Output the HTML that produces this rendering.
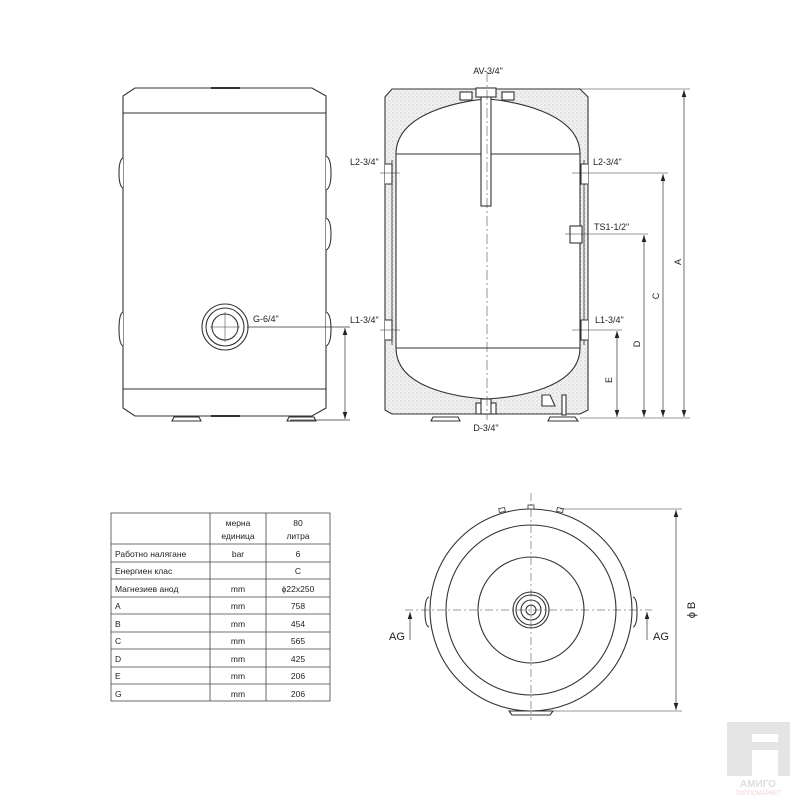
<!DOCTYPE html>
<html><head><meta charset="utf-8"><style>
html,body{margin:0;padding:0;background:#fff;}
svg{display:block}
text{font-family:"Liberation Sans","DejaVu Sans",sans-serif;fill:#222}
</style></head><body>
<svg width="800" height="800" viewBox="0 0 800 800" xmlns="http://www.w3.org/2000/svg">
<defs>
<pattern id="dots" width="4" height="4" patternUnits="userSpaceOnUse">
<rect width="4" height="4" fill="#f1f1f1"/><circle cx="1" cy="1" r="0.6" fill="#bbb"/><circle cx="3" cy="3" r="0.5" fill="#ccc"/>
</pattern>
<marker id="ar" markerWidth="9" markerHeight="8" refX="0" refY="0" orient="auto-start-reverse" markerUnits="userSpaceOnUse" viewBox="-8 -4 9 8">
<path d="M0,0 L-7,-2.3 L-7,2.3 Z" fill="#222"/></marker>
</defs>
<g stroke="#333" stroke-width="1.1" fill="none">
<!-- FRONT VIEW -->
<path d="M135,88 L312,88 L326,96 L326,408 L312,416 L135,416 L123,408 L123,96 Z" fill="#fff"/>
<line x1="123" y1="113" x2="326" y2="113"/>
<line x1="123" y1="389" x2="326" y2="389"/>
<path d="M211,88 L240,88" stroke-width="2"/>
<path d="M211,416 L240,416" stroke-width="2"/>
<path d="M123,158 Q119,160 119,173 Q119,186 123,188" fill="#fff"/>
<path d="M123,312 Q119,314 119,329 Q119,344 123,346" fill="#fff"/>
<path d="M326,156 Q331,158 331,173 Q331,188 326,190" fill="#fff"/>
<path d="M326,218 Q331,220 331,234 Q331,248 326,250" fill="#fff"/>
<path d="M326,312 Q331,314 331,329 Q331,344 326,346" fill="#fff"/>
<path d="M174,417 L199,417 L201,421 L172,421 Z" fill="#fff"/>
<path d="M289,417 L314,417 L316,421 L287,421 Z" fill="#fff"/>
<circle cx="225" cy="327" r="23"/><circle cx="225" cy="327" r="19"/><circle cx="225" cy="327" r="13"/>
<line x1="225" y1="312" x2="225" y2="342" stroke-width="0.5"/>
<line x1="210" y1="327" x2="240" y2="327" stroke-width="0.5"/>
<line x1="247" y1="327" x2="350" y2="327" stroke-width="0.7"/>
<line x1="290" y1="420" x2="350" y2="420" stroke-width="0.7"/>
<line x1="345" y1="419" x2="345" y2="328" stroke-width="0.7" marker-start="url(#ar)" marker-end="url(#ar)"/>

<!-- SECTION VIEW -->
<path d="M392,89 L580,89 L588,97 L588,410 L580,414 L392,414 L385,410 L385,97 Z" fill="url(#dots)"/>
<path d="M396,154 C396,110 470,100 487,99 C504,100 580,110 580,154 L580,348 C580,392 504,398 487,399 C470,398 396,392 396,348 Z" fill="#fff"/>
<line x1="396" y1="154" x2="580" y2="154"/>
<line x1="396" y1="348" x2="580" y2="348"/>
<line x1="392" y1="160" x2="392" y2="345" stroke-width="0.8"/>
<line x1="584" y1="160" x2="584" y2="345" stroke-width="0.8"/>
<rect x="481" y="92" width="10" height="114" fill="#fff"/>
<rect x="476" y="88" width="20" height="9" fill="#fff"/>
<rect x="460" y="92" width="12" height="8" fill="#fff"/>
<rect x="502" y="92" width="12" height="8" fill="#fff"/>
<rect x="476" y="403" width="20" height="11" fill="#fff"/>
<rect x="481" y="399" width="10" height="15" fill="#fff"/>
<line x1="487" y1="72" x2="487" y2="420" stroke-width="0.5" stroke-dasharray="10,3,2,3"/>
<path d="M385,164 L392,164 L392,184 L385,184" fill="#fff"/>
<path d="M588,164 L581,164 L581,184 L588,184" fill="#fff"/>
<path d="M385,320 L392,320 L392,340 L385,340" fill="#fff"/>
<path d="M588,320 L581,320 L581,340 L588,340" fill="#fff"/>
<rect x="570" y="226" width="12" height="17" fill="#fff"/>
<path d="M542,395 L550,395 L555,406 L542,406 Z" fill="#fff"/>
<path d="M433,417 L458,417 L460,421 L431,421 Z" fill="#fff"/>
<rect x="562" y="395" width="4" height="20" fill="#fff"/>
<path d="M550,417 L575,417 L578,421 L548,421 Z" fill="#fff"/>
<g stroke-width="0.6">
<line x1="380" y1="173" x2="400" y2="173"/>
<line x1="572" y1="173" x2="668" y2="173"/>
<line x1="380" y1="330" x2="400" y2="330"/>
<line x1="572" y1="330" x2="622" y2="330"/>
<line x1="565" y1="234" x2="648" y2="234"/>
<line x1="500" y1="89" x2="690" y2="89"/>
<line x1="580" y1="418" x2="690" y2="418"/>
</g>
<g stroke-width="0.7">
<line x1="684" y1="417" x2="684" y2="90" marker-start="url(#ar)" marker-end="url(#ar)"/>
<line x1="663" y1="417" x2="663" y2="174" marker-start="url(#ar)" marker-end="url(#ar)"/>
<line x1="644" y1="417" x2="644" y2="235" marker-start="url(#ar)" marker-end="url(#ar)"/>
<line x1="617" y1="417" x2="617" y2="331" marker-start="url(#ar)" marker-end="url(#ar)"/>
</g>

<!-- BOTTOM (TOP) VIEW -->
<circle cx="531" cy="610" r="101"/>
<circle cx="531" cy="610" r="85"/>
<circle cx="531" cy="610" r="53"/>
<circle cx="531" cy="610" r="18"/>
<circle cx="531" cy="610" r="15"/>
<circle cx="531" cy="610" r="10"/>
<circle cx="531" cy="610" r="5"/>
<path d="M429,597 Q425,598 425,612 Q425,626 429,627" fill="#fff"/>
<path d="M633,597 Q637,598 637,612 Q637,626 633,627" fill="#fff"/>
<path d="M509,711 L553,711 L550,715 L512,715 Z" fill="#fff"/>
<rect x="528" y="505" width="6" height="4" fill="#fff" stroke-width="0.8"/>
<rect x="499" y="508" width="6" height="4" fill="#fff" stroke-width="0.8" transform="rotate(-12 502 510)"/>
<rect x="557" y="508" width="6" height="4" fill="#fff" stroke-width="0.8" transform="rotate(12 560 510)"/>
<line x1="531" y1="493" x2="531" y2="720" stroke-width="0.5" stroke-dasharray="8,3,2,3"/>
<line x1="405" y1="610" x2="652" y2="610" stroke-width="0.6" stroke-dasharray="8,3,2,3"/>
<line x1="410" y1="640" x2="410" y2="612" stroke-width="0.7" marker-end="url(#ar)"/>
<line x1="647" y1="640" x2="647" y2="612" stroke-width="0.7" marker-end="url(#ar)"/>
<line x1="560" y1="509" x2="682" y2="509" stroke-width="0.6"/>
<line x1="553" y1="711" x2="682" y2="711" stroke-width="0.6"/>
<line x1="676" y1="510" x2="676" y2="710" stroke-width="0.7" marker-start="url(#ar)" marker-end="url(#ar)"/>

<!-- TABLE -->
<g stroke-width="0.8" stroke="#444">
<rect x="111" y="513" width="219" height="188"/>
<line x1="210" y1="513" x2="210" y2="701"/>
<line x1="266" y1="513" x2="266" y2="701"/>
<line x1="111" y1="544" x2="330" y2="544"/>
<line x1="111" y1="562" x2="330" y2="562"/>
<line x1="111" y1="579" x2="330" y2="579"/>
<line x1="111" y1="597" x2="330" y2="597"/>
<line x1="111" y1="614" x2="330" y2="614"/>
<line x1="111" y1="632" x2="330" y2="632"/>
<line x1="111" y1="649" x2="330" y2="649"/>
<line x1="111" y1="667" x2="330" y2="667"/>
<line x1="111" y1="684" x2="330" y2="684"/>
</g>
</g>

<g font-size="9">
<text x="488" y="74" text-anchor="middle">AV-3/4"</text>
<text x="350" y="165">L2-3/4"</text>
<text x="593" y="165">L2-3/4"</text>
<text x="594" y="230">TS1-1/2"</text>
<text x="350" y="323">L1-3/4"</text>
<text x="595" y="323">L1-3/4"</text>
<text x="253" y="322">G-6/4"</text>
<text x="486" y="431" text-anchor="middle">D-3/4"</text>
<text transform="translate(681,262) rotate(-90)" text-anchor="middle">A</text>
<text transform="translate(659,296) rotate(-90)" text-anchor="middle">C</text>
<text transform="translate(640,344) rotate(-90)" text-anchor="middle">D</text>
<text transform="translate(612,380) rotate(-90)" text-anchor="middle">E</text>
</g>
<g font-size="11">
<text x="389" y="640">AG</text>
<text x="653" y="640">AG</text>
<text transform="translate(695,610) rotate(-90)" text-anchor="middle">ϕ B</text>
</g>
<g font-size="8.5" text-anchor="middle">
<text x="238" y="526">мерна</text>
<text x="238" y="539">единица</text>
<text x="298" y="526">80</text>
<text x="298" y="539">литра</text>
<text x="238" y="557">bar</text><text x="298" y="557">6</text>
<text x="298" y="574">C</text>
<text x="238" y="592">mm</text><text x="298" y="592">ϕ22x250</text>
<text x="238" y="609">mm</text><text x="298" y="609">758</text>
<text x="238" y="627">mm</text><text x="298" y="627">454</text>
<text x="238" y="644">mm</text><text x="298" y="644">565</text>
<text x="238" y="662">mm</text><text x="298" y="662">425</text>
<text x="238" y="679">mm</text><text x="298" y="679">206</text>
<text x="238" y="697">mm</text><text x="298" y="697">206</text>
</g>
<g font-size="8.5">
<text x="115" y="557">Работно налягане</text>
<text x="115" y="574">Енергиен клас</text>
<text x="115" y="592">Магнезиев анод</text>
<text x="115" y="609">A</text>
<text x="115" y="627">B</text>
<text x="115" y="644">C</text>
<text x="115" y="662">D</text>
<text x="115" y="679">E</text>
<text x="115" y="697">G</text>
</g>
<!-- logo -->
<g fill="#e4e4e4">
<path d="M727,722 L790,722 L790,776 L778,776 L778,750 L752,750 L752,776 L727,776 Z"/>
<rect x="752" y="734" width="26" height="8" fill="#fff"/>
</g>
<text x="758" y="787" font-size="10" font-weight="bold" text-anchor="middle" style="fill:#ddd">АМИГО</text>
<text x="758" y="795" font-size="6" text-anchor="middle" style="fill:#f4d0d0">ТОППОМАРКЕТ</text>
</svg>
</body></html>
